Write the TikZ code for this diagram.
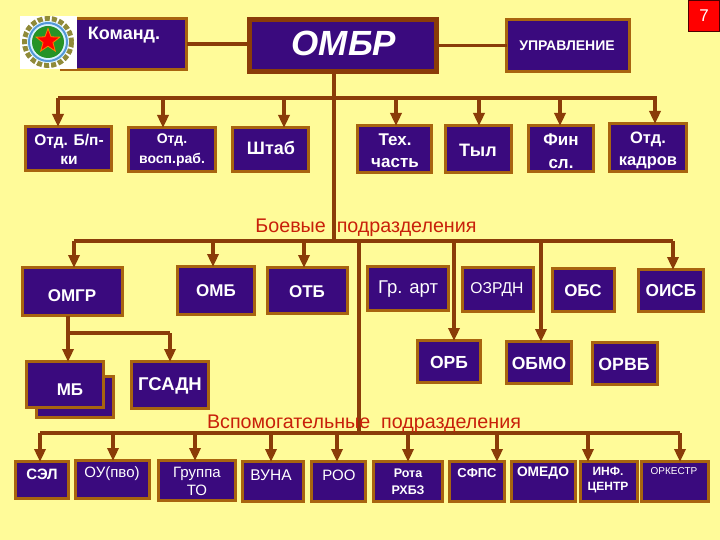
\documentclass[tikz,border=0pt]{standalone}
\usepackage{fontspec}
\setmainfont{Liberation Sans}
\usetikzlibrary{arrows.meta,shapes.geometric}
\definecolor{bgY}{HTML}{FFFB99}
\definecolor{boxP}{HTML}{3A0A7E}
\definecolor{boxB}{HTML}{A8640F}
\definecolor{lineB}{HTML}{8A3C08}
\definecolor{capR}{HTML}{C8200A}
\tikzset{
  boxnode/.style={draw=boxB,fill=boxP,line width=3pt,inner sep=0pt,outer sep=0pt},
  txt/.style={text=white,align=center,inner sep=0pt},
  lnk/.style={draw=lineB,line width=3.5pt},
  arr/.style={draw=lineB,line width=3.5pt,-{Triangle[length=13pt,width=11pt]},shorten >=-0.5pt},
  captxt/.style={text=capR,inner sep=0pt}
}
\newcommand{\fb}[2]{\bfseries\fontsize{#1}{#2}\selectfont}
\newcommand{\fr}[2]{\fontsize{#1}{#2}\selectfont}
\newcommand{\fsp}[3]{\fontsize{#1}{#2}\selectfont\addfontfeatures{LetterSpace=#3}}
% id x0 y0 x1 y1 tx ty font text
\newcommand{\bx}[9]{%
  \pgfmathsetmacro{\cxx}{(#2+#4)/2}\pgfmathsetmacro{\cyy}{(#3+#5)/2}%
  \pgfmathsetmacro{\www}{#4-#2-3}\pgfmathsetmacro{\hhh}{#5-#3-3}%
  \node[boxnode,minimum width=\www pt,minimum height=\hhh pt] (#1) at (\cxx,\cyy) {};
  \node[txt,font={#8}] (#1t) at (#6,#7) {#9};
}
\begin{document}
\begin{tikzpicture}[x=1pt,y=-1pt]
\useasboundingbox (0,0) rectangle (720,540);
\fill[bgY] (0,0) rectangle (720,540);

% connectors behind the boxes
\coordinate (top) at (334,74);
\coordinate (busAl) at (58,98);
\coordinate (busAr) at (657,98);
\coordinate (busBl) at (74,241);
\coordinate (busBr) at (673,241);
\coordinate (busBt) at (334,241);
\coordinate (busBs) at (359,241);
\coordinate (busCl) at (40,433);
\coordinate (busCr) at (680,433);
\coordinate (busCs) at (359,433);
\coordinate (grp) at (68,333);
\coordinate (grpr) at (170,333);
\draw[lnk] (busAl) -- (busAr);
\draw[lnk] (top) -- (busBt);
\draw[lnk] (busBl) -- (busBr);
\draw[lnk] (busBs) -- (busCs);
\draw[lnk] (busCl) -- (busCr);

% back box of MB
\bx{mbb}{35}{375}{115}{419}{75}{397}{\fb{10}{12}}{}
% boxes
\bx{kom}{60}{17}{188}{71}{124}{35}{\fb{18}{20}}{Команд.}
\begin{scope}[boxnode/.append style={draw=lineB,line width=5pt}]
\bx{ombr}{248}{18}{438}{73}{344}{43}{\bfseries\itshape\fontsize{35}{40}\selectfont}{ОМБР}
\end{scope}
\bx{upr}{505}{18}{631}{73}{567}{46}{\fb{14}{16}}{УПРАВЛЕНИЕ}
\bx{a1}{24}{125}{113}{172}{69}{149}{\fb{15.5}{19}}{Отд. Б/п-\\ки}
\bx{a2}{127}{126}{217}{173}{172}{150}{\bfseries\fsp{14}{20}{0.06}}{Отд.\\восп.раб.}
\bx{a3}{231}{126}{310}{173}{271}{148}{\fb{18}{20}}{Штаб}
\bx{a4}{356}{124}{433}{174}{395}{151}{\fb{17}{22}}{Тех.\\часть}
\bx{a5}{444}{124}{513}{174}{478}{150}{\fb{18}{20}}{Тыл}
\bx{a6}{527}{124}{595}{173}{561}{151}{\fb{17}{23}}{Фин\\сл.}
\bx{a7}{608}{122}{688}{173}{648}{150}{\fb{16.5}{22}}{Отд.\\кадров}
\bx{omgr}{21}{266}{124}{317}{72}{296}{\fb{17}{18}}{ОМГР}
\bx{omb}{176}{265}{256}{316}{216}{291}{\fb{17}{18}}{ОМБ}
\bx{otb}{266}{266}{349}{315}{307}{292}{\fb{17}{18}}{ОТБ}
\bx{gr}{366}{265}{450}{312}{408}{289}{\fr{18.5}{20}}{Гр. арт}
\bx{ozr}{461}{266}{535}{313}{497}{290}{\fr{15.7}{18}}{ОЗРДН}
\bx{obs}{551}{267}{616}{313}{583}{291}{\fb{17}{18}}{ОБС}
\bx{oisb}{637}{268}{705}{313}{671}{291}{\fb{17.3}{18}}{ОИСБ}
\bx{orb}{416}{339}{482}{384}{449}{362}{\fb{17.5}{18}}{ОРБ}
\bx{obmo}{505}{340}{573}{385}{539}{363}{\fb{17.5}{18}}{ОБМО}
\bx{orvb}{591}{341}{659}{386}{624}{364}{\fb{17.7}{18}}{ОРВБ}
\bx{mb}{25}{360}{105}{409}{70}{390}{\fb{17}{18}}{МБ}
\bx{gsa}{130}{360}{210}{410}{170}{386}{\fb{18.5}{20}}{ГСАДН}
\bx{c1}{14}{460}{70}{500}{42}{474}{\fb{15}{16}}{СЭЛ}
\bx{c2}{74}{459}{151}{500}{112}{474}{\fsp{15}{16}{0.05}}{ОУ(пво)}
\bx{c3}{157}{459}{237}{502}{197}{481}{\fsp{15}{18}{0.1}}{Группа\\ТО}
\bx{c4}{241}{460}{305}{503}{271}{475}{\fr{15.5}{16}}{ВУНА}
\bx{c5}{310}{460}{367}{503}{339}{475}{\fr{15}{16}}{РОО}
\bx{c6}{372}{460}{444}{503}{408}{482}{\fb{12.5}{17}}{Рота\\РХБЗ}
\bx{c7}{448}{460}{506}{503}{477}{473}{\fb{13}{14}}{СФПС}
\bx{c8}{510}{460}{577}{503}{543}{473}{\fb{13.8}{14}}{ОМЕДО}
\bx{c9}{579}{460}{639}{503}{608}{480}{\fb{12}{15}}{ИНФ.\\ЦЕНТР}
\bx{c10}{640}{460}{710}{503}{674}{471}{\fr{10}{11}}{ОРКЕСТР}

\draw[lnk] (kom.east) -- (ombr.west |- kom.east);
\draw[lnk] (upr.west) -- (ombr.east |- upr.west);

% emblem
\fill[white] (20,16) rectangle (77,69);
\draw[olive!60!gray,line width=6pt,dash pattern=on 5pt off 2pt] (48,42) circle (23);
\fill[white!85!cyan] (48,42) circle (21);
\draw[cyan!60!blue!70!white,line width=2pt] (48,42) circle (19);
\fill[green!50!black!85!white] (48,42) circle (16);
\node[star,star points=5,star point ratio=2.4,fill=red,draw=orange,line width=0.8pt,minimum size=25pt,inner sep=0pt] (emblemstar) at (48,41) {};

% branch arrows, first row
\foreach \n/\x in {a1/58,a2/163,a3/284,a4/396,a5/479,a6/560,a7/655}{
  \coordinate (s\n) at (\x,98);
  \draw[arr] (s\n) -- (s\n |- \n.north);
}
% second row
\foreach \n/\x in {omgr/74,omb/213,otb/304,orb/454,obmo/541,oisb/673}{
  \coordinate (s\n) at (\x,241);
  \draw[arr] (s\n) -- (s\n |- \n.north);
}
% OMGR subtree
\draw[arr] (grp |- omgr.south) -- (grp |- mb.north);
\draw[lnk] (grp) -- (grpr);
\draw[arr] (grpr) -- (grpr |- gsa.north);
% third row
\foreach \n/\x in {c1/40,c2/113,c3/195,c4/271,c5/337,c6/408,c7/497,c9/588,c10/680}{
  \coordinate (s\n) at (\x,433);
  \draw[arr] (s\n) -- (s\n |- \n.north);
}
% captions
\node[captxt,font=\fontsize{19.7}{22}\selectfont] (capA) at (366,228) {Боевые\ \ подразделения};
\node[captxt,font=\fontsize{19.7}{22}\selectfont] (capB) at (364,424) {Вспомогательные\ \ подразделения};
% page number
\node[draw=black!70!red,fill=red,line width=0.8pt,minimum width=31pt,minimum height=31pt,inner sep=0pt,text=white,font=\fontsize{17}{18}\selectfont] (pg) at (704,16) {7};
\end{tikzpicture}
\end{document}
